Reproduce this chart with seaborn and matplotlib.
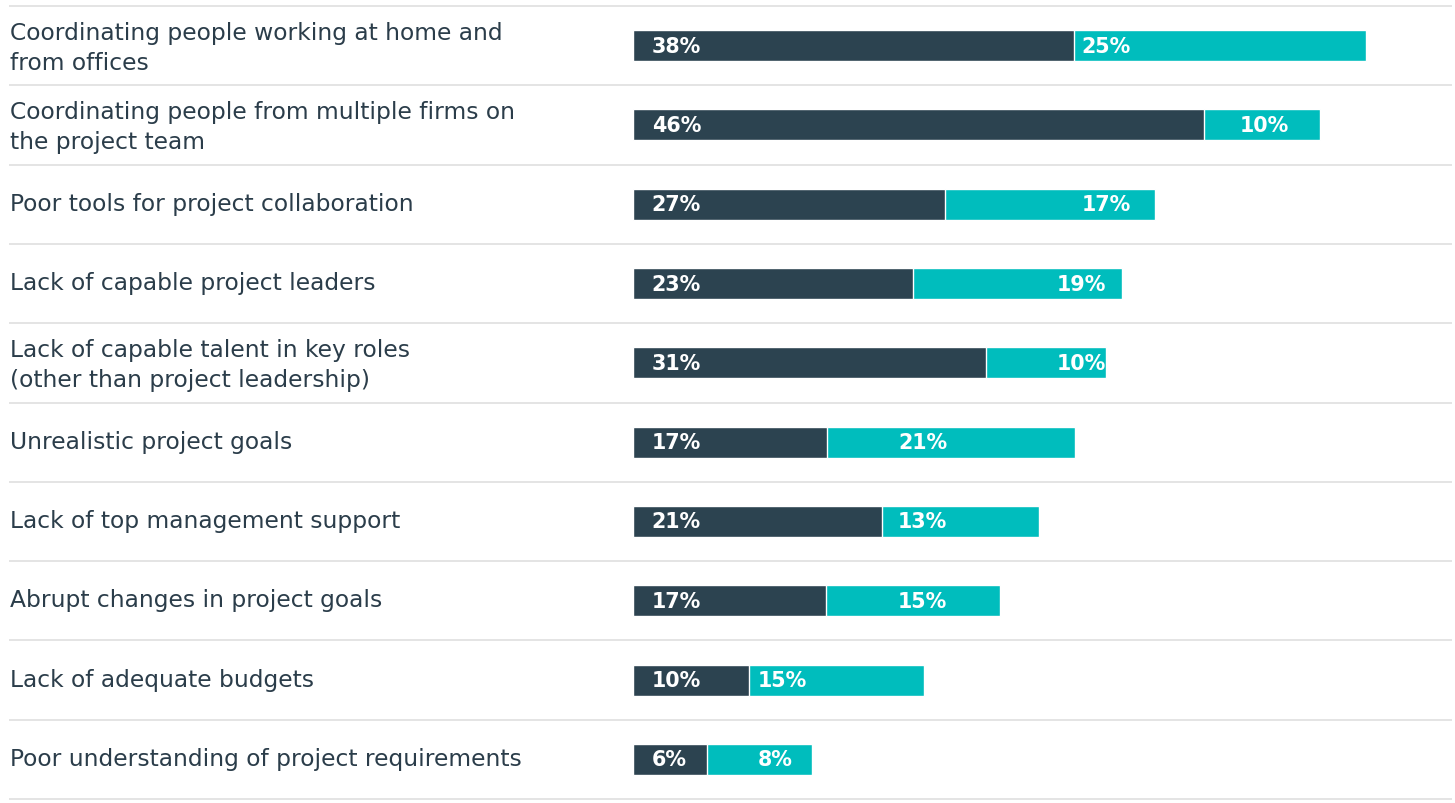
import matplotlib
matplotlib.use("Agg")
import matplotlib.pyplot as plt
import seaborn as sns
import pandas as pd

# ---------------- data ----------------
categories = [
    "Coordinating people working at home and\nfrom offices",
    "Coordinating people from multiple firms on\nthe project team",
    "Poor tools for project collaboration",
    "Lack of capable project leaders",
    "Lack of capable talent in key roles\n(other than project leadership)",
    "Unrealistic project goals",
    "Lack of top management support",
    "Abrupt changes in project goals",
    "Lack of adequate budgets",
    "Poor understanding of project requirements",
]
# bar lengths as drawn in the picture (percent)
dark_values = [37.95, 49.1, 26.85, 24.1, 30.4, 16.7, 21.4, 16.6, 10.0, 6.4]
teal_values = [25.1, 10.0, 18.1, 18.0, 10.3, 21.3, 13.5, 15.0, 15.0, 9.0]
# printed labels
dark_labels = ["38%", "46%", "27%", "23%", "31%", "17%", "21%", "17%", "10%", "6%"]
teal_labels = ["25%", "10%", "17%", "19%", "10%", "21%", "13%", "15%", "15%", "8%"]

# ---------------- layout / style ----------------
teal_label_left = [38.6, 52.2, 38.6, 36.5, 36.5, 22.8, 22.8, 22.8, 10.75, 10.75]
DARK = "#2c4350"
TEAL = "#00bdbd"
TEXT = "#2b3d4a"
GRID = "#e2e2e2"
W, H = 1455, 804
PX_PER_UNIT = 11.62
ORIGIN_PX = 633

sns.set_theme(style="white")
plt.rcParams["font.family"] = ["DejaVu Sans"]

df = pd.DataFrame({
    "category": categories,
    "dark": dark_values,
    "total": [d + t for d, t in zip(dark_values, teal_values)],
})

fig = plt.figure(figsize=(W / 100, H / 100), dpi=100)
ax = fig.add_axes([0, (H - 800) / H, 1, (800 - 7) / H])

bar_h = 31 / 79.3
sns.barplot(data=df, x="total", y="category", color=TEAL, width=bar_h,
            saturation=1, ax=ax, orient="h")
sns.barplot(data=df, x="dark", y="category", color=DARK, width=bar_h,
            saturation=1, ax=ax, orient="h")

xmin = -ORIGIN_PX / PX_PER_UNIT
xmax = (W - ORIGIN_PX) / PX_PER_UNIT
ax.set_xlim(xmin, xmax)
n = len(categories)
ax.set_ylim(n - 0.5, -0.5)

# separator lines
for k in range(n + 1):
    ax.hlines(k - 0.5, xmin + 9 / PX_PER_UNIT, xmax - 3 / PX_PER_UNIT,
              color=GRID, lw=1.3, clip_on=False, zorder=0)

label_x = xmin + 10 / PX_PER_UNIT
for i, cat in enumerate(categories):
    two_line = "\n" in cat
    ax.text(label_x, i + (0.02 if two_line else -0.01), cat, ha="left",
            va="center", fontsize=16.8, color=TEXT, linespacing=1.38)
    ax.text(1.6, i, dark_labels[i], ha="left", va="center",
            fontsize=14.9, fontweight="bold", color="white")
    ax.text(teal_label_left[i], i, teal_labels[i], ha="left",
            va="center", fontsize=14.9, fontweight="bold", color="white")

ax.set_axis_off()
ax.set_xlabel("")
ax.set_ylabel("")

fig.savefig("out.png", dpi=100, facecolor="white")
